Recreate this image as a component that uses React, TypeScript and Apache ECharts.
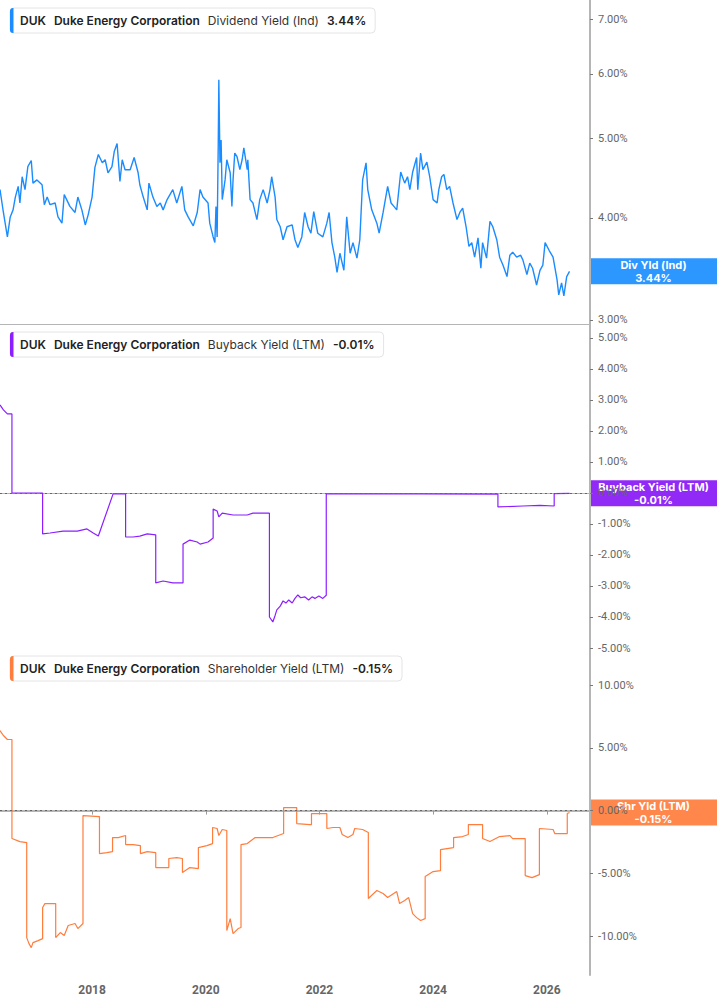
import React, { useEffect, useRef } from 'react';
import * as echarts from 'echarts';

// Dividend yield (indicated), %
const divYears = [
  2016.38, 2016.44, 2016.51, 2016.56, 2016.61, 2016.65, 2016.70, 2016.73, 2016.77, 2016.82,
  2016.87, 2016.93, 2016.96, 2017.03, 2017.12, 2017.16, 2017.21, 2017.26, 2017.35, 2017.40,
  2017.47, 2017.51, 2017.61, 2017.70, 2017.75, 2017.82, 2017.88, 2017.93, 2018.00, 2018.05,
  2018.11, 2018.18, 2018.23, 2018.28, 2018.35, 2018.39, 2018.44, 2018.49, 2018.53, 2018.58,
  2018.67, 2018.74, 2018.81, 2018.84, 2018.90, 2018.97, 2019.00, 2019.07, 2019.14, 2019.20,
  2019.25, 2019.32, 2019.37, 2019.42, 2019.49, 2019.58, 2019.63, 2019.69, 2019.78, 2019.85,
  2019.90, 2019.95, 2020.04, 2020.07, 2020.13, 2020.16, 2020.18, 2020.20, 2020.22, 2020.23,
  2020.25, 2020.27, 2020.29, 2020.34, 2020.37, 2020.43, 2020.46, 2020.48, 2020.51, 2020.55,
  2020.60, 2020.64, 2020.67, 2020.73, 2020.74, 2020.78, 2020.83, 2020.90, 2020.95, 2021.01,
  2021.08, 2021.13, 2021.16, 2021.22, 2021.25, 2021.31, 2021.36, 2021.43, 2021.52, 2021.57,
  2021.62, 2021.69, 2021.74, 2021.80, 2021.85, 2021.90, 2021.97, 2022.06, 2022.13, 2022.17,
  2022.22, 2022.27, 2022.31, 2022.36, 2022.43, 2022.48, 2022.54, 2022.59, 2022.66, 2022.71,
  2022.76, 2022.82, 2022.85, 2022.92, 2023.01, 2023.05, 2023.12, 2023.20, 2023.26, 2023.31,
  2023.36, 2023.43, 2023.50, 2023.55, 2023.59, 2023.64, 2023.71, 2023.73, 2023.78, 2023.82,
  2023.89, 2023.94, 2024.00, 2024.07, 2024.10, 2024.15, 2024.19, 2024.24, 2024.29, 2024.35,
  2024.42, 2024.47, 2024.52, 2024.58, 2024.63, 2024.68, 2024.73, 2024.79, 2024.84, 2024.87,
  2024.94, 2025.00, 2025.05, 2025.12, 2025.17, 2025.23, 2025.30, 2025.35, 2025.40, 2025.47,
  2025.54, 2025.58, 2025.65, 2025.70, 2025.75, 2025.82, 2025.88, 2025.93, 2025.97, 2026.04,
  2026.11, 2026.18, 2026.21, 2026.26, 2026.30, 2026.35, 2026.40,
];
const divValues = [
  4.33, 4.06, 3.79, 4.01, 4.09, 4.24, 4.37, 4.17, 4.49, 4.33,
  4.62, 4.70, 4.41, 4.45, 4.39, 4.15, 4.24, 4.15, 4.17, 4.01,
  3.94, 4.27, 4.13, 4.06, 4.24, 4.09, 3.92, 4.03, 4.24, 4.61,
  4.78, 4.67, 4.71, 4.54, 4.62, 4.82, 4.93, 4.43, 4.71, 4.58,
  4.58, 4.74, 4.54, 4.39, 4.24, 4.09, 4.41, 4.24, 4.13, 4.17,
  4.09, 4.21, 4.27, 4.33, 4.17, 4.37, 4.09, 4.01, 3.91, 4.06,
  4.33, 4.24, 4.17, 3.94, 3.79, 3.73, 4.13, 3.79, 4.94, 5.90,
  4.67, 4.98, 4.21, 4.45, 4.71, 4.54, 4.13, 4.45, 4.80, 4.75,
  4.58, 4.71, 4.87, 4.58, 4.71, 4.21, 4.17, 3.98, 4.21, 4.33,
  4.17, 4.33, 4.49, 4.24, 3.98, 3.90, 3.76, 3.90, 3.92, 3.76,
  3.68, 3.79, 4.06, 3.90, 3.83, 4.07, 3.83, 3.79, 3.94, 4.06,
  3.73, 3.58, 3.43, 3.62, 3.45, 4.01, 3.62, 3.73, 3.57, 3.76,
  4.45, 4.67, 4.33, 4.09, 3.94, 3.83, 4.06, 4.37, 4.17, 4.13,
  4.09, 4.55, 4.41, 4.49, 4.33, 4.55, 4.74, 4.33, 4.80, 4.58,
  4.68, 4.49, 4.21, 4.17, 4.33, 4.49, 4.52, 4.33, 4.37, 4.17,
  3.98, 4.06, 4.11, 3.90, 3.69, 3.73, 3.58, 3.78, 3.47, 3.73,
  3.57, 3.96, 3.90, 3.76, 3.58, 3.50, 3.39, 3.60, 3.63, 3.58,
  3.60, 3.55, 3.41, 3.52, 3.47, 3.31, 3.45, 3.50, 3.73, 3.65,
  3.58, 3.36, 3.22, 3.33, 3.21, 3.39, 3.44,
];

// Buyback yield (LTM), %
const buybackYears = [
  2016.38, 2016.44, 2016.51, 2016.59, 2016.59, 2017.13, 2017.13, 2017.26, 2017.49, 2017.74,
  2017.91, 2018.02, 2018.11, 2018.37, 2018.59, 2018.59, 2018.72, 2018.84, 2018.97, 2019.12,
  2019.12, 2019.25, 2019.42, 2019.60, 2019.60, 2019.72, 2019.85, 2019.90, 2020.04, 2020.13,
  2020.13, 2020.20, 2020.23, 2020.29, 2020.48, 2020.73, 2020.83, 2021.12, 2021.12, 2021.18,
  2021.22, 2021.25, 2021.31, 2021.36, 2021.41, 2021.46, 2021.52, 2021.57, 2021.62, 2021.67,
  2021.74, 2021.81, 2021.87, 2021.92, 2021.99, 2022.06, 2022.12, 2022.12, 2023.77, 2025.14,
  2025.14, 2025.58, 2025.88, 2026.13, 2026.13, 2026.40,
];
const buybackValues = [
  2.84, 2.68, 2.55, 2.55, 0.00, 0.00, -1.32, -1.29, -1.23, -1.23,
  -1.16, -1.29, -1.39, -0.03, -0.03, -1.42, -1.42, -1.39, -1.32, -1.35,
  -2.90, -2.84, -2.90, -2.90, -1.65, -1.52, -1.58, -1.65, -1.58, -1.45,
  -0.52, -0.58, -0.77, -0.65, -0.71, -0.71, -0.65, -0.65, -4.00, -4.16,
  -3.95, -3.77, -3.65, -3.48, -3.55, -3.45, -3.55, -3.40, -3.29, -3.38,
  -3.35, -3.45, -3.35, -3.40, -3.32, -3.40, -3.30, -0.03, -0.03, -0.04,
  -0.45, -0.42, -0.40, -0.42, -0.02, -0.01,
];

// Shareholder yield (LTM), %
const shrYears = [
  2016.38, 2016.44, 2016.51, 2016.59, 2016.59, 2016.73, 2016.85, 2016.85, 2016.89, 2016.93,
  2016.96, 2017.05, 2017.13, 2017.13, 2017.17, 2017.36, 2017.36, 2017.44, 2017.51, 2017.58,
  2017.70, 2017.75, 2017.84, 2017.84, 2018.13, 2018.13, 2018.26, 2018.36, 2018.36, 2018.46,
  2018.59, 2018.59, 2018.72, 2018.85, 2018.85, 2018.97, 2019.12, 2019.12, 2019.35, 2019.35,
  2019.49, 2019.59, 2019.59, 2019.72, 2019.87, 2019.87, 2020.02, 2020.12, 2020.12, 2020.20,
  2020.23, 2020.29, 2020.37, 2020.37, 2020.43, 2020.48, 2020.57, 2020.62, 2020.62, 2020.73,
  2020.87, 2021.18, 2021.37, 2021.37, 2021.60, 2021.60, 2021.83, 2021.86, 2021.86, 2022.13,
  2022.13, 2022.24, 2022.36, 2022.40, 2022.50, 2022.59, 2022.62, 2022.76, 2022.86, 2022.86,
  2023.01, 2023.12, 2023.20, 2023.36, 2023.41, 2023.50, 2023.57, 2023.64, 2023.71, 2023.78,
  2023.86, 2023.86, 2024.00, 2024.13, 2024.13, 2024.36, 2024.36, 2024.52, 2024.62, 2024.62,
  2024.87, 2024.87, 2025.00, 2025.17, 2025.35, 2025.40, 2025.62, 2025.62, 2025.74, 2025.87,
  2025.87, 2026.11, 2026.14, 2026.36, 2026.36, 2026.40,
];
const shrValues = [
  6.37, 5.98, 5.66, 5.66, -2.23, -2.47, -2.55, -10.12, -10.60, -10.92,
  -10.52, -10.36, -10.20, -7.73, -7.41, -7.41, -10.12, -9.72, -9.96, -9.16,
  -9.00, -9.40, -9.00, -0.40, -0.48, -3.43, -3.35, -3.27, -2.15, -2.15,
  -1.99, -2.71, -2.71, -2.79, -3.43, -3.27, -3.35, -4.54, -4.54, -3.82,
  -3.75, -3.82, -4.94, -4.54, -4.62, -2.95, -2.79, -2.63, -1.35, -1.43,
  -1.99, -1.51, -1.59, -9.56, -8.61, -9.80, -9.40, -9.32, -2.71, -2.63,
  -2.15, -2.15, -1.83, 0.24, 0.24, -1.04, -1.12, -1.12, -0.24, -0.24,
  -1.43, -1.35, -1.35, -1.91, -2.15, -1.91, -1.43, -1.51, -1.75, -7.01,
  -6.37, -6.61, -6.93, -6.45, -7.41, -7.17, -6.93, -8.21, -8.53, -8.76,
  -8.61, -5.26, -4.86, -4.78, -3.11, -2.95, -2.15, -2.07, -1.91, -1.12,
  -1.12, -2.23, -2.47, -2.07, -1.99, -2.23, -2.23, -5.18, -5.34, -5.10,
  -1.43, -1.51, -1.83, -1.83, -0.24, -0.15,
];

const yearTicks = [2018, 2020, 2022, 2024, 2026];
const divTicks = [3, 4, 5, 6, 7];
const buybackTicks = [-5, -4, -3, -2, -1, 0, 1, 2, 3, 4, 5];
const shrTicks = [-10, -5, 0, 5, 10];

const ticker = 'DUK';
const company = 'Duke Energy Corporation';
const metricNames = ['Dividend Yield (Ind)', 'Buyback Yield (LTM)', 'Shareholder Yield (LTM)'];
const shortNames = ['Div Yld (Ind)', 'Buyback Yield (LTM)', 'Shr Yld (LTM)'];

const lineColors = ['#1a8cff', '#8c1fff', '#ff7d3d'];
const boxColors = ['#1e90ff', '#8a1cf7', '#ff7f40'];

const zip = (xs: number[], ys: number[]) => xs.map((x, i) => [x, ys[i]]);
const pct = (v: number) => v.toFixed(2) + '%';

const App = () => {
  const chartRef = useRef<HTMLDivElement>(null);

  useEffect(() => {
    const chart = echarts.init(chartRef.current, null, { renderer: 'svg' });

    const tops = [0, 324, 648];
    const heights = [324, 324, 327];
    const plotRight = 590;

    const axisLabelBase = {
      color: '#666',
      fontFamily: 'Roboto',
      fontSize: 11,
      margin: 8,
      formatter: (v: number) => pct(v),
    };
    const axisTickBase = { show: true, length: 3, lineStyle: { color: '#777' } };
    const axisLineBase = { show: true, lineStyle: { color: '#b5b5b5', width: 2 } };

    const series = [
      { data: zip(divYears, divValues) },
      { data: zip(buybackYears, buybackValues) },
      { data: zip(shrYears, shrValues) },
    ].map((s, i) => ({
      type: 'line',
      xAxisIndex: i,
      yAxisIndex: i,
      data: s.data,
      symbol: 'none',
      showSymbol: false,
      lineStyle: { color: lineColors[i], width: i === 0 ? 1.4 : 1.2 },
      itemStyle: { color: lineColors[i] },
      markLine:
        i === 0
          ? undefined
          : {
              silent: true,
              symbol: 'none',
              label: { show: false },
              lineStyle: { color: '#666', type: [2, 3], width: 1 },
              data: [{ yAxis: 0 }],
            },
    }));

    const option = {
      animation: false,
      grid: tops.map((t, i) => ({
        left: 0,
        right: 717 - plotRight,
        top: t,
        height: heights[i],
        containLabel: false,
        outerBoundsMode: 'none',
      })),
      xAxis: [0, 1, 2].map((i) => ({
        type: 'value',
        gridIndex: i,
        min: 2016.38,
        max: 2026.76,
        splitLine: { show: false },
        axisLine: { show: true, lineStyle: { color: '#b5b5b5', width: i === 2 ? 2 : 1 } },
        axisTick:
          i === 2
            ? { show: true, length: 4, customValues: yearTicks, lineStyle: { color: '#999' } }
            : { show: false },
        axisLabel:
          i === 2
            ? {
                show: true,
                customValues: yearTicks,
                color: '#666',
                fontFamily: 'Roboto',
                fontWeight: 'bold',
                fontSize: 12,
                margin: 9,
                formatter: (v: number) => String(Math.round(v)),
              }
            : { show: false },
      })),
      yAxis: [
        {
          type: 'log',
          logBase: 10,
          gridIndex: 0,
          position: 'right',
          min: 2.966,
          max: 7.385,
          splitLine: { show: false },
          axisLine: axisLineBase,
          axisTick: { ...axisTickBase, customValues: divTicks },
          axisLabel: { ...axisLabelBase, customValues: divTicks },
        },
        {
          type: 'value',
          gridIndex: 1,
          position: 'right',
          min: -5,
          max: 5.45,
          splitLine: { show: false },
          axisLine: axisLineBase,
          axisTick: { ...axisTickBase, customValues: buybackTicks },
          axisLabel: { ...axisLabelBase, customValues: buybackTicks },
        },
        {
          type: 'value',
          gridIndex: 2,
          position: 'right',
          min: -13.1,
          max: 12.95,
          splitLine: { show: false },
          axisLine: axisLineBase,
          axisTick: { ...axisTickBase, customValues: shrTicks },
          axisLabel: { ...axisLabelBase, customValues: shrTicks },
        },
      ],
      series,
    };

    chart.setOption(option);

    // measure title texts so the boxes fit them
    const fontSize = 12;
    const ctx = document.createElement('canvas').getContext('2d')!;
    const measure = (t: string, weight: number) => {
      ctx.font = `${weight} ${fontSize}px Inter`;
      return ctx.measureText(t).width;
    };

    const allYears = [divYears, buybackYears, shrYears];
    const allValues = [divValues, buybackValues, shrValues];
    const graphics: any[] = [];

    [0, 1, 2].forEach((i) => {
      const lastVal = allValues[i][allValues[i].length - 1];
      const lastYear = allYears[i][allYears[i].length - 1];
      const gap = 8;
      const textW =
        measure(ticker, 600) +
        measure(company, 600) +
        measure(metricNames[i], 400) +
        measure(pct(lastVal), 600) +
        gap * 3;
      const boxW = 10 + textW + 9;

      graphics.push({
        type: 'group',
        x: 10,
        y: tops[i] + 8,
        z: 100,
        children: [
          {
            type: 'rect',
            shape: { x: 0, y: 0, width: boxW, height: 25, r: 4 },
            style: { fill: '#fff', stroke: '#e4e4e4', lineWidth: 1 },
          },
          {
            type: 'rect',
            shape: { x: 0, y: 0, width: 3.5, height: 25, r: [3, 0, 0, 3] },
            style: { fill: lineColors[i] },
          },
          {
            type: 'text',
            x: 10,
            y: 12.5,
            style: {
              text: `{b|${ticker}}{g| }{b|${company}}{g| }{r|${metricNames[i]}}{g| }{b|${pct(lastVal)}}`,
              verticalAlign: 'middle',
              rich: {
                b: { fontFamily: 'Inter', fontSize, fontWeight: 600, fill: '#222' },
                r: { fontFamily: 'Inter', fontSize, fontWeight: 400, fill: '#333' },
                g: { width: gap, fontSize },
              },
            },
          },
        ],
      });

      const [, py] = chart.convertToPixel({ xAxisIndex: i, yAxisIndex: i }, [lastYear, lastVal]);
      graphics.push({
        type: 'group',
        x: plotRight,
        y: py,
        z: 100,
        children: [
          {
            type: 'rect',
            shape: { x: 0, y: -13, width: 717 - plotRight, height: 26 },
            style: { fill: boxColors[i], opacity: 0.94 },
          },
          {
            type: 'text',
            x: (717 - plotRight) / 2,
            y: 0,
            style: {
              text: `${shortNames[i]}\n${pct(lastVal)}`,
              fill: '#fff',
              fontFamily: 'Inter',
              fontWeight: 'bold',
              fontSize: 11,
              lineHeight: 13,
              align: 'center',
              verticalAlign: 'middle',
            },
          },
        ],
      });
    });

    chart.setOption({ graphic: graphics });

    return () => {
      chart.dispose();
    };
  }, []);

  return (
    <div
      ref={chartRef}
      style={{ position: 'fixed', left: 0, top: 0, width: '717px', height: '1005px', background: '#fff' }}
    />
  );
};

export default App;
